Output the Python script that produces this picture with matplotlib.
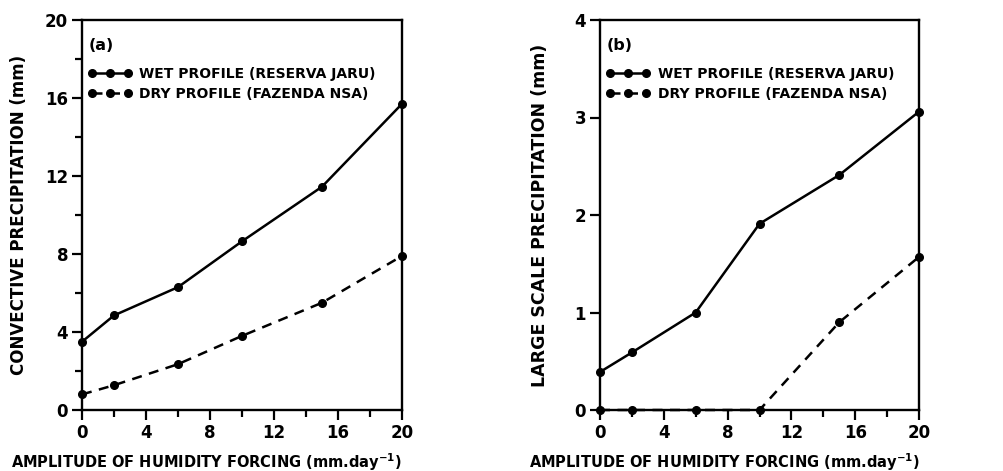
import matplotlib
matplotlib.use("Agg")
import matplotlib.pyplot as plt
from matplotlib.ticker import MultipleLocator
from matplotlib.lines import Line2D

# Humidity forcing amplitude (mm/day)
forcing = [0, 2, 6, 10, 15, 20]

# (a) convective precipitation (mm)
conv_wet = [3.5, 4.85, 6.3, 8.65, 11.45, 15.7]
conv_dry = [0.8, 1.27, 2.35, 3.8, 5.5, 7.9]

# (b) large scale precipitation (mm)
ls_wet = [0.39, 0.59, 1.0, 1.91, 2.41, 3.06]
ls_dry = [0.0, 0.0, 0.0, 0.0, 0.9, 1.57]

wet_label = "WET PROFILE (RESERVA JARU)"
dry_label = "DRY PROFILE (FAZENDA NSA)"
xlabel = r"AMPLITUDE OF HUMIDITY FORCING (mm.day$^{\mathbf{-1}}$)"

plt.rcParams["font.family"] = ["DejaVu Sans"]
plt.rcParams["font.weight"] = "bold"
plt.rcParams["mathtext.default"] = "bf"

fig = plt.figure(figsize=(10.04, 4.71), dpi=100)
W, H = 1004, 471
ax_a = fig.add_axes([82 / W, 1 - 410 / H, (402 - 82) / W, (410 - 20) / H])
ax_b = fig.add_axes([600 / W, 1 - 410 / H, (919 - 600) / W, (410 - 20) / H])

line_kw = dict(color="black", lw=1.8, marker="o", ms=5.5, clip_on=False)
dash = (0, (4, 3))


def style(ax, ymax, ymajor, yminor, ylabel, ylabel_size, ylabel_pad, tag):
    ax.set_xlim(0, 20)
    ax.set_ylim(0, ymax)
    ax.xaxis.set_major_locator(MultipleLocator(4))
    ax.xaxis.set_minor_locator(MultipleLocator(2))
    ax.yaxis.set_major_locator(MultipleLocator(ymajor))
    if yminor:
        ax.yaxis.set_minor_locator(MultipleLocator(yminor))
    ax.tick_params(which="major", direction="out", length=7, width=1.6,
                   labelsize=12, pad=3)
    ax.tick_params(which="minor", direction="out", length=5, width=1.6)
    for s in ax.spines.values():
        s.set_linewidth(1.7)
    ax.set_xlabel(xlabel, fontsize=10.5, fontweight="bold")
    ax.xaxis.set_label_coords(0.39, -0.105)
    ax.set_ylabel(ylabel, fontsize=ylabel_size, fontweight="bold",
                  labelpad=ylabel_pad)
    ax.text(0.02, 0.955, tag, transform=ax.transAxes, fontsize=11.5,
            fontweight="bold", va="top", ha="left")
    plain = {k: v for k, v in line_kw.items() if k != "clip_on"}
    handles = [Line2D([], [], **plain), Line2D([], [], ls=dash, **plain)]
    ax.legend(handles, [wet_label, dry_label], loc="upper left",
              bbox_to_anchor=(-0.02, 0.912), frameon=False, numpoints=3,
              handlelength=3.2, handletextpad=0.5, labelspacing=0.45,
              prop={"size": 10, "weight": "bold"})


ax_a.plot(forcing, conv_wet, **line_kw)
ax_a.plot(forcing, conv_dry, ls=dash, **line_kw)
style(ax_a, 20, 4, 2, "CONVECTIVE PRECIPITATION (mm)", 12, 12, "(a)")

ax_b.plot(forcing, ls_wet, **line_kw)
ax_b.plot(forcing, ls_dry, ls=dash, **line_kw)
style(ax_b, 4, 1, None, "LARGE SCALE PRECIPITATION (mm)", 12.5, 18, "(b)")

fig.savefig("out.png", dpi=100)
